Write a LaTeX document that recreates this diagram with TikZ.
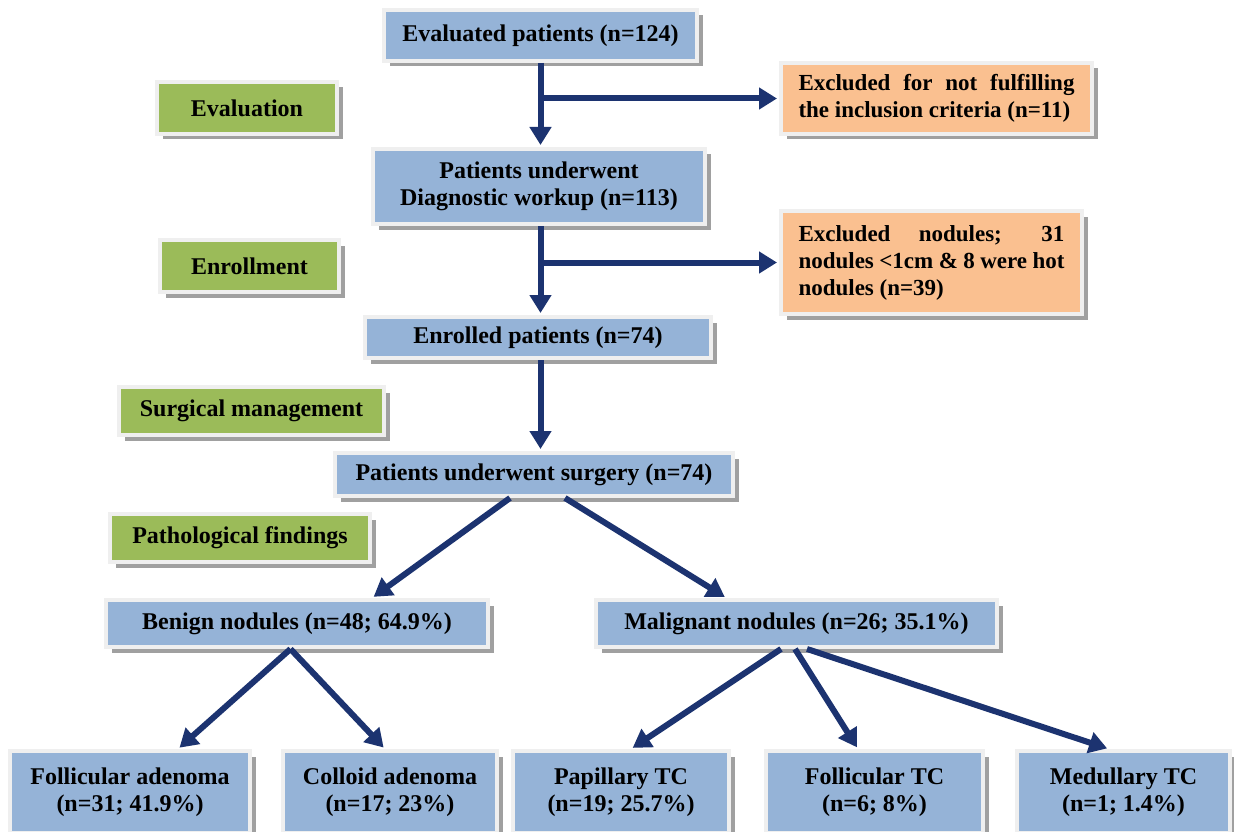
\documentclass[tikz,border=0pt]{standalone}
\usepackage{fontspec}
\setmainfont{Liberation Serif}
\usetikzlibrary{arrows.meta,shadows,calc}
\definecolor{boxblue}{HTML}{95B3D7}
\definecolor{boxorange}{HTML}{FAC090}
\definecolor{boxgreen}{HTML}{9BBB59}
\definecolor{arrowblue}{HTML}{1C3370}
\definecolor{rim}{HTML}{EFEFEF}
\definecolor{shade}{HTML}{A0A0A0}
\begin{document}
\begin{tikzpicture}[x=1pt,y=-1pt,
  boxbase/.style={rectangle, draw=rim, line width=4pt, inner sep=0pt, align=center,
    font=\fontsize{24}{27}\selectfont\bfseries,
    drop shadow={shadow xshift=5.5pt, shadow yshift=-5.5pt, fill=shade, opacity=1}},
  bluebox/.style={boxbase, fill=boxblue},
  greenbox/.style={boxbase, fill=boxgreen},
  orangebox/.style={boxbase, fill=boxorange, align=left, font=\fontsize{23}{27}\selectfont\bfseries},
  sz/.style 2 args={minimum width=#1pt+4pt, minimum height=#2pt+4pt},
  arr/.style={draw=arrowblue, line width=6pt, -{Triangle[length=18pt,width=21pt]}, shorten >=2pt}
]
\useasboundingbox[fill=white] (0,0) rectangle (1234,832);

% main column
\node[bluebox, sz={309}{47}] (eval) at (540.5,35.5) {Evaluated patients (n=124)};
\node[orangebox, sz={307}{67}] (excl1) at (936.5,98.5)
  {\makebox[276pt][s]{Excluded for not fulfilling}\\the inclusion criteria (n=11)};
\node[greenbox, sz={176}{48}] (evaln) at (247,108) {Evaluation};
\node[bluebox, sz={328}{71}] (diag) at (539,186.5) {Patients underwent\\Diagnostic workup (n=113)};
\node[orangebox, sz={297}{99}] (excl2) at (931.5,262.5)
  {\makebox[266pt][s]{Excluded nodules; 31}\\\makebox[266pt][s]{nodules <1cm \& 8 were hot}\\nodules (n=39)};
\node[greenbox, sz={175}{48}] (enrl) at (249.5,266) {Enrollment};
\node[bluebox, sz={342}{37}] (enr) at (538,337.5) {\raisebox{-2pt}{Enrolled patients (n=74)}};
\node[greenbox, sz={261}{44}] (surgm) at (251.5,411) {Surgical management};
\node[bluebox, sz={394}{39}] (surg) at (534,474.5) {Patients underwent surgery (n=74)};
\node[greenbox, sz={256}{44}] (path) at (240,538) {Pathological findings};
\node[bluebox, sz={378}{43}] (benign) at (297,623.5) {Benign nodules (n=48; 64.9\%)};
\node[bluebox, sz={397}{43}] (malig) at (796.5,623.5) {Malignant nodules (n=26; 35.1\%)};

% bottom row
\node[bluebox, sz={236}{78}] (fa) at (130,792) {Follicular adenoma\\(n=31; 41.9\%)};
\node[bluebox, sz={210}{78}] (ca) at (390,792) {Colloid adenoma\\(n=17; 23\%)};
\node[bluebox, sz={212}{78}] (ptc) at (621,792) {Papillary TC\\(n=19; 25.7\%)};
\node[bluebox, sz={213}{78}] (ftc) at (874.5,792) {Follicular TC\\(n=6; 8\%)};
\node[bluebox, sz={209}{78}] (mtc) at (1123.5,792) {Medullary TC\\(n=1; 1.4\%)};

% connectors
\draw[arr] (eval.south) -- (eval.south |- diag.north);
\draw[arr] (eval.south |- excl1.west) -- (excl1.west);
\draw[arr] (eval.south |- diag.south) -- (eval.south |- enr.north);
\draw[arr] (eval.south |- excl2.west) -- (excl2.west);
\draw[arr] (eval.south |- enr.south) -- (eval.south |- surg.north);

\draw[arr] ([xshift=-24pt]surg.south) -- ([xshift=75pt]benign.north);
\draw[arr] ([xshift=31pt]surg.south) -- ([xshift=-70pt]malig.north);

\draw[arr] ([xshift=-6.5pt]benign.south) -- ([xshift=48pt]fa.north);
\draw[arr] ([xshift=-6.5pt]benign.south) -- ([xshift=-5pt]ca.north);

\draw[arr] ([xshift=-15.5pt]malig.south) -- ([xshift=10pt]ptc.north);
\draw[arr] ([xshift=-1.5pt]malig.south) -- ([xshift=-16.5pt]ftc.north);
\draw[arr] ([xshift=10.5pt]malig.south) -- ([xshift=-14.5pt]mtc.north);
\end{tikzpicture}
\end{document}
